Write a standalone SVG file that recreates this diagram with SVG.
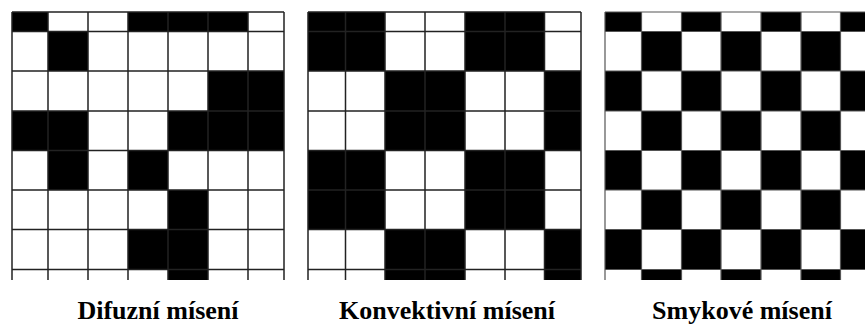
<svg xmlns="http://www.w3.org/2000/svg" width="865" height="325" viewBox="0 0 865 325">
<style>
.b{fill:#000}
.g{fill:none;stroke:#222;stroke-width:1.5}
.g3{fill:none;stroke:#555;stroke-width:1.2}
.lbl{font-family:"Liberation Serif","Times New Roman",serif;font-weight:bold;font-size:26px;fill:#000;text-anchor:middle}
</style>
<rect width="865" height="325" fill="#fff"/>
<g id="grid-difuzni">
<rect class="b" x="12" y="12" width="36" height="19.5"/>
<rect class="b" x="128" y="12" width="120" height="19.5"/>
<rect class="b" x="48" y="31.5" width="40" height="39.5"/>
<rect class="b" x="208" y="71" width="76" height="40"/>
<rect class="b" x="12" y="111" width="76" height="39.5"/>
<rect class="b" x="168" y="111" width="116" height="39.5"/>
<rect class="b" x="48" y="150.5" width="40" height="39.5"/>
<rect class="b" x="128" y="150.5" width="40" height="39.5"/>
<rect class="b" x="168" y="190" width="40" height="39.5"/>
<rect class="b" x="128" y="229.5" width="80" height="40"/>
<rect class="b" x="168" y="269.5" width="40" height="10.5"/>
<path class="g" d="M12 12H284M12 31.5H284M12 71H284M12 111H284M12 150.5H284M12 190H284M12 229.5H284M12 269.5H284M12 12V280M48 12V280M88 12V280M128 12V280M168 12V280M208 12V280M248 12V280M284 12V280"/>
<text class="lbl" x="158" y="319">Difuzní mísení</text>
</g>
<g id="grid-konvektivni">
<rect class="b" x="308" y="12" width="77" height="59"/>
<rect class="b" x="465" y="12" width="79.5" height="59"/>
<rect class="b" x="385" y="71" width="80" height="79.5"/>
<rect class="b" x="544.5" y="71" width="36.5" height="79.5"/>
<rect class="b" x="308" y="150.5" width="77" height="79"/>
<rect class="b" x="465" y="150.5" width="79.5" height="79"/>
<rect class="b" x="385" y="229.5" width="80" height="50.5"/>
<rect class="b" x="544.5" y="229.5" width="36.5" height="50.5"/>
<path class="g" d="M308 12H581M308 31.5H581M308 71H581M308 111H581M308 150.5H581M308 190H581M308 229.5H581M308 269.5H581M308 12V280M345.5 12V280M385 12V280M425 12V280M465 12V280M505 12V280M544.5 12V280M581 12V280"/>
<text class="lbl" x="447" y="319">Konvektivní mísení</text>
</g>
<g id="grid-smykove">
<rect class="b" x="605" y="12" width="36.5" height="19.5"/>
<rect class="b" x="681.5" y="12" width="39.5" height="19.5"/>
<rect class="b" x="761" y="12" width="40" height="19.5"/>
<rect class="b" x="840.5" y="12" width="25" height="19.5"/>
<rect class="b" x="641.5" y="31.5" width="40" height="39.5"/>
<rect class="b" x="721" y="31.5" width="40" height="39.5"/>
<rect class="b" x="801" y="31.5" width="39.5" height="39.5"/>
<rect class="b" x="605" y="71" width="36.5" height="40"/>
<rect class="b" x="681.5" y="71" width="39.5" height="40"/>
<rect class="b" x="761" y="71" width="40" height="40"/>
<rect class="b" x="840.5" y="71" width="25" height="40"/>
<rect class="b" x="641.5" y="111" width="40" height="39.5"/>
<rect class="b" x="721" y="111" width="40" height="39.5"/>
<rect class="b" x="801" y="111" width="39.5" height="39.5"/>
<rect class="b" x="605" y="150.5" width="36.5" height="39.5"/>
<rect class="b" x="681.5" y="150.5" width="39.5" height="39.5"/>
<rect class="b" x="761" y="150.5" width="40" height="39.5"/>
<rect class="b" x="840.5" y="150.5" width="25" height="39.5"/>
<rect class="b" x="641.5" y="190" width="40" height="39.5"/>
<rect class="b" x="721" y="190" width="40" height="39.5"/>
<rect class="b" x="801" y="190" width="39.5" height="39.5"/>
<rect class="b" x="605" y="229.5" width="36.5" height="40"/>
<rect class="b" x="681.5" y="229.5" width="39.5" height="40"/>
<rect class="b" x="761" y="229.5" width="40" height="40"/>
<rect class="b" x="840.5" y="229.5" width="25" height="40"/>
<rect class="b" x="641.5" y="269.5" width="40" height="10.5"/>
<rect class="b" x="721" y="269.5" width="40" height="10.5"/>
<rect class="b" x="801" y="269.5" width="39.5" height="10.5"/>
<path class="g3" d="M605 12H865M605 31.5H865M605 71H865M605 111H865M605 150.5H865M605 190H865M605 229.5H865M605 269.5H865M605 12V280M641.5 12V280M681.5 12V280M721 12V280M761 12V280M801 12V280M840.5 12V280"/>
<text class="lbl" x="742" y="319">Smykové mísení</text>
</g>
</svg>
